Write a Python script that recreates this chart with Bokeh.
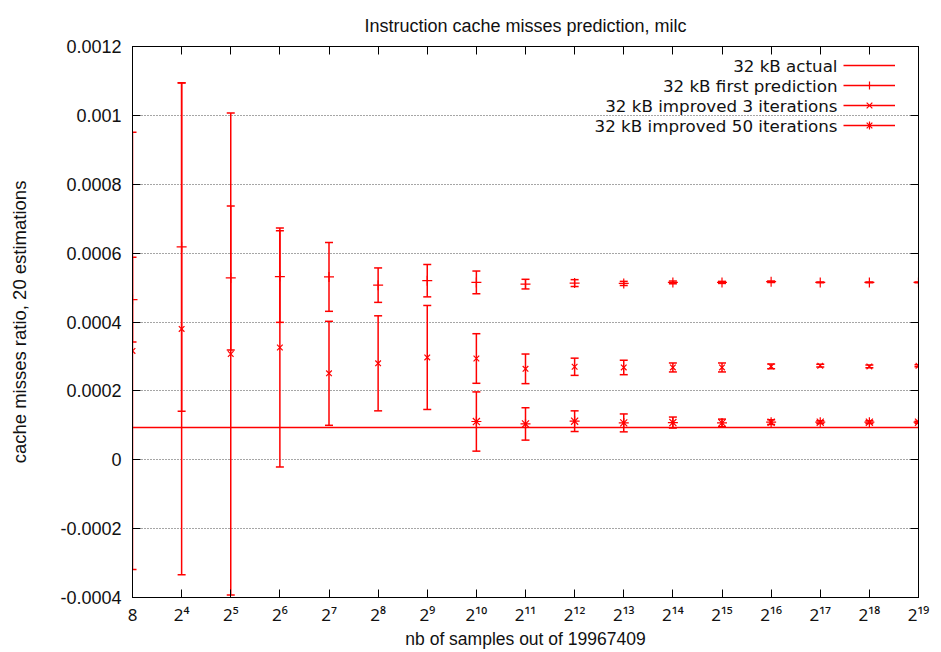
from bokeh.plotting import figure
from bokeh.models import (Range1d, FixedTicker, CustomJSTickFormatter, LinearAxis,
                          Legend, LegendItem, ColumnDataSource, Label)
from bokeh.core.properties import value
from bokeh.embed import file_html
from bokeh.resources import INLINE

# ---------------- data ----------------
exponents = [3, 4, 5, 6, 7, 8, 9, 10, 11, 12, 13, 14, 15, 16, 17, 18, 19]
x_tick_labels = ["8", "2⁴", "2⁵", "2⁶", "2⁷", "2⁸", "2⁹", "2¹⁰", "2¹¹", "2¹²",
                 "2¹³", "2¹⁴", "2¹⁵", "2¹⁶", "2¹⁷", "2¹⁸", "2¹⁹"]
y_ticks = [-0.0004, -0.0002, 0.0, 0.0002, 0.0004, 0.0006, 0.0008, 0.001, 0.0012]

actual_ratio = 0.000094

first_pred = [0.000465, 0.000618, 0.000528, 0.000532, 0.000531, 0.000507, 0.000520,
              0.000515, 0.000510, 0.000513, 0.000512, 0.000515, 0.000515, 0.000517,
              0.000515, 0.000515, 0.000515]
first_err = [0.000123, 0.000477, 0.000209, 0.000133, 0.000100, 0.000050, 0.000047,
             0.000033, 0.000014, 0.000010, 0.000006, 0.000004, 0.000003, 0.000002,
             0.000001, 0.000001, 0.000001]

iter3_pred = [0.000316, 0.000380, 0.000307, 0.000326, 0.000251, 0.000280, 0.000297,
              0.000294, 0.000264, 0.000270, 0.000268, 0.000268, 0.000268, 0.000271,
              0.000273, 0.000271, 0.000273]
iter3_err = [0.000635, 0.000714, 0.000700, 0.000347, 0.000151, 0.000138, 0.000151,
             0.000072, 0.000043, 0.000025, 0.000021, 0.000013, 0.000013, 0.000007,
             0.000004, 0.000004, 0.000003]

exponents50 = [10, 11, 12, 13, 14, 15, 16, 17, 18, 19]
iter50_pred = [0.000111, 0.000104, 0.000112, 0.000107, 0.000108, 0.000107, 0.000109,
               0.000109, 0.000109, 0.000109]
iter50_err = [0.000086, 0.000047, 0.000030, 0.000026, 0.000016, 0.000011, 0.000007,
              0.000004, 0.000004, 0.000003]

legend_labels = ["32 kB actual", "32 kB first prediction",
                 "32 kB improved 3 iterations", "32 kB improved 50 iterations"]

# ---------------- style ----------------
RED = "#ff0000"
FONT = "Liberation Sans"
LFONT = "DejaVu Sans"

p = figure(width=940, height=652, output_backend="svg", toolbar_location=None,
           x_range=Range1d(3, 19), y_range=Range1d(-0.0004, 0.0012),
           min_border_left=132, min_border_right=22, min_border_top=46,
           min_border_bottom=55, title="Instruction cache misses prediction, milc",
           background_fill_color="white", border_fill_color="white")

p.title.text_font = FONT
p.title.text_font_size = "18px"
p.title.text_font_style = "normal"
p.title.text_color = "#111111"
p.title.align = "center"
p.title.standoff = 22

p.outline_line_color = "black"
p.outline_line_width = 1
p.outline_line_alpha = 1

xticker = FixedTicker(ticks=exponents)
yticker = FixedTicker(ticks=y_ticks)

# bottom axis
xa = p.xaxis[0]
xa.ticker = xticker
xa.major_label_overrides = {e: l for e, l in zip(exponents, x_tick_labels)}
xa.axis_label = "nb of samples out of 19967409"
xa.axis_label_text_font = FONT
xa.axis_label_text_font_size = "17.5px"
xa.axis_label_text_font_style = "normal"
xa.axis_label_text_color = "#111111"
xa.axis_label_standoff = 0
xa.major_label_standoff = 5

# left axis
ya = p.yaxis[0]
ya.ticker = yticker
ya.formatter = CustomJSTickFormatter(code="""
let s = tick.toFixed(4);
s = s.replace(/\\.?0+$/, '');
if (s === '-0') { s = '0'; }
return s;
""")
ya.axis_label = "cache misses ratio, 20 estimations"
ya.axis_label_text_font = FONT
ya.axis_label_text_font_size = "18.5px"
ya.axis_label_text_font_style = "normal"
ya.axis_label_text_color = "#111111"
ya.axis_label_standoff = 27
ya.major_label_standoff = 11

for ax in (xa, ya):
    ax.major_label_text_font_size = "18px"
    ax.major_label_text_color = "#111111"
    ax.major_tick_in = 8
    ax.major_tick_out = 0
    ax.minor_tick_line_color = None
    ax.major_tick_line_color = "black"
    ax.axis_line_color = "black"
ya.major_label_text_font = FONT
xa.major_label_text_font = "Noto Sans"
xa.major_label_text_font_size = "17px"

# mirrored axes (ticks only)
blank = CustomJSTickFormatter(code="return '';")
top_axis = LinearAxis(ticker=xticker, formatter=blank, major_label_text_font_size="0px",
                      major_label_standoff=0, major_tick_in=8, major_tick_out=0,
                      minor_tick_line_color=None, axis_line_color="black")
right_axis = LinearAxis(ticker=yticker, formatter=blank, major_label_text_font_size="0px",
                        major_label_standoff=0, major_tick_in=8, major_tick_out=0,
                        minor_tick_line_color=None, axis_line_color="black")
p.add_layout(top_axis, "above")
p.add_layout(right_axis, "right")

p.xgrid.visible = False
p.ygrid.ticker = yticker
p.ygrid.grid_line_color = "#222222"
p.ygrid.grid_line_alpha = 0.8
p.ygrid.grid_line_dash = "1 2"
p.ygrid.grid_line_width = 1

# ---------------- glyphs ----------------
r_actual = p.line(x=exponents, y=[actual_ratio] * len(exponents),
                  line_color=RED, line_width=1.5)


def add_series(xs, ys, errs, marker, msize):
    lo = [y - e for y, e in zip(ys, errs)]
    hi = [y + e for y, e in zip(ys, errs)]
    src = ColumnDataSource(dict(x=xs, y=ys, lo=lo, hi=hi))
    seg = p.segment(x0="x", y0="lo", x1="x", y1="hi", source=src,
                    line_color=RED, line_width=1.5)
    p.scatter(x="x", y="lo", source=src, marker="dash", size=8,
              line_color=RED, line_width=1.5)
    p.scatter(x="x", y="hi", source=src, marker="dash", size=8,
              line_color=RED, line_width=1.5)
    mk = p.scatter(x="x", y="y", source=src, marker=marker, size=msize,
                   line_color=RED, line_width=1.2)
    return seg, mk


seg1, mk1 = add_series(exponents, first_pred, first_err, "cross", 10)
seg2, mk2 = add_series(exponents, iter3_pred, iter3_err, "x", 8)
seg3, mk3 = add_series(exponents50, iter50_pred, iter50_err, "asterisk", 10)

# ---------------- legend: text right-aligned, line sample to its right ----------------
ROW_H = 20
LEG_BOTTOM = 462          # screen px above the frame bottom
TEXT_RIGHT = 705          # screen px from the frame left
SAMPLE_LEFT = 711

legend_glyphs = Legend(
    items=[LegendItem(label=value(""), renderers=[r_actual]),
           LegendItem(label=value(""), renderers=[seg1, mk1]),
           LegendItem(label=value(""), renderers=[seg2, mk2]),
           LegendItem(label=value(""), renderers=[seg3, mk3])],
    location=(SAMPLE_LEFT, LEG_BOTTOM), glyph_width=52, glyph_height=ROW_H,
    label_height=ROW_H, label_width=0, label_standoff=0, padding=0, spacing=0,
    margin=0, background_fill_alpha=0, border_line_color=None)
p.add_layout(legend_glyphs)

n = len(legend_labels)
for i, txt in enumerate(legend_labels):
    p.add_layout(Label(x=TEXT_RIGHT, y=LEG_BOTTOM + (n - i - 0.5) * ROW_H,
                       x_units="screen", y_units="screen", text=txt,
                       text_align="right", text_baseline="middle",
                       text_font=LFONT, text_font_size="16.7px",
                       text_color="#111111"))

open("out.html", "w").write(file_html(p, INLINE))
